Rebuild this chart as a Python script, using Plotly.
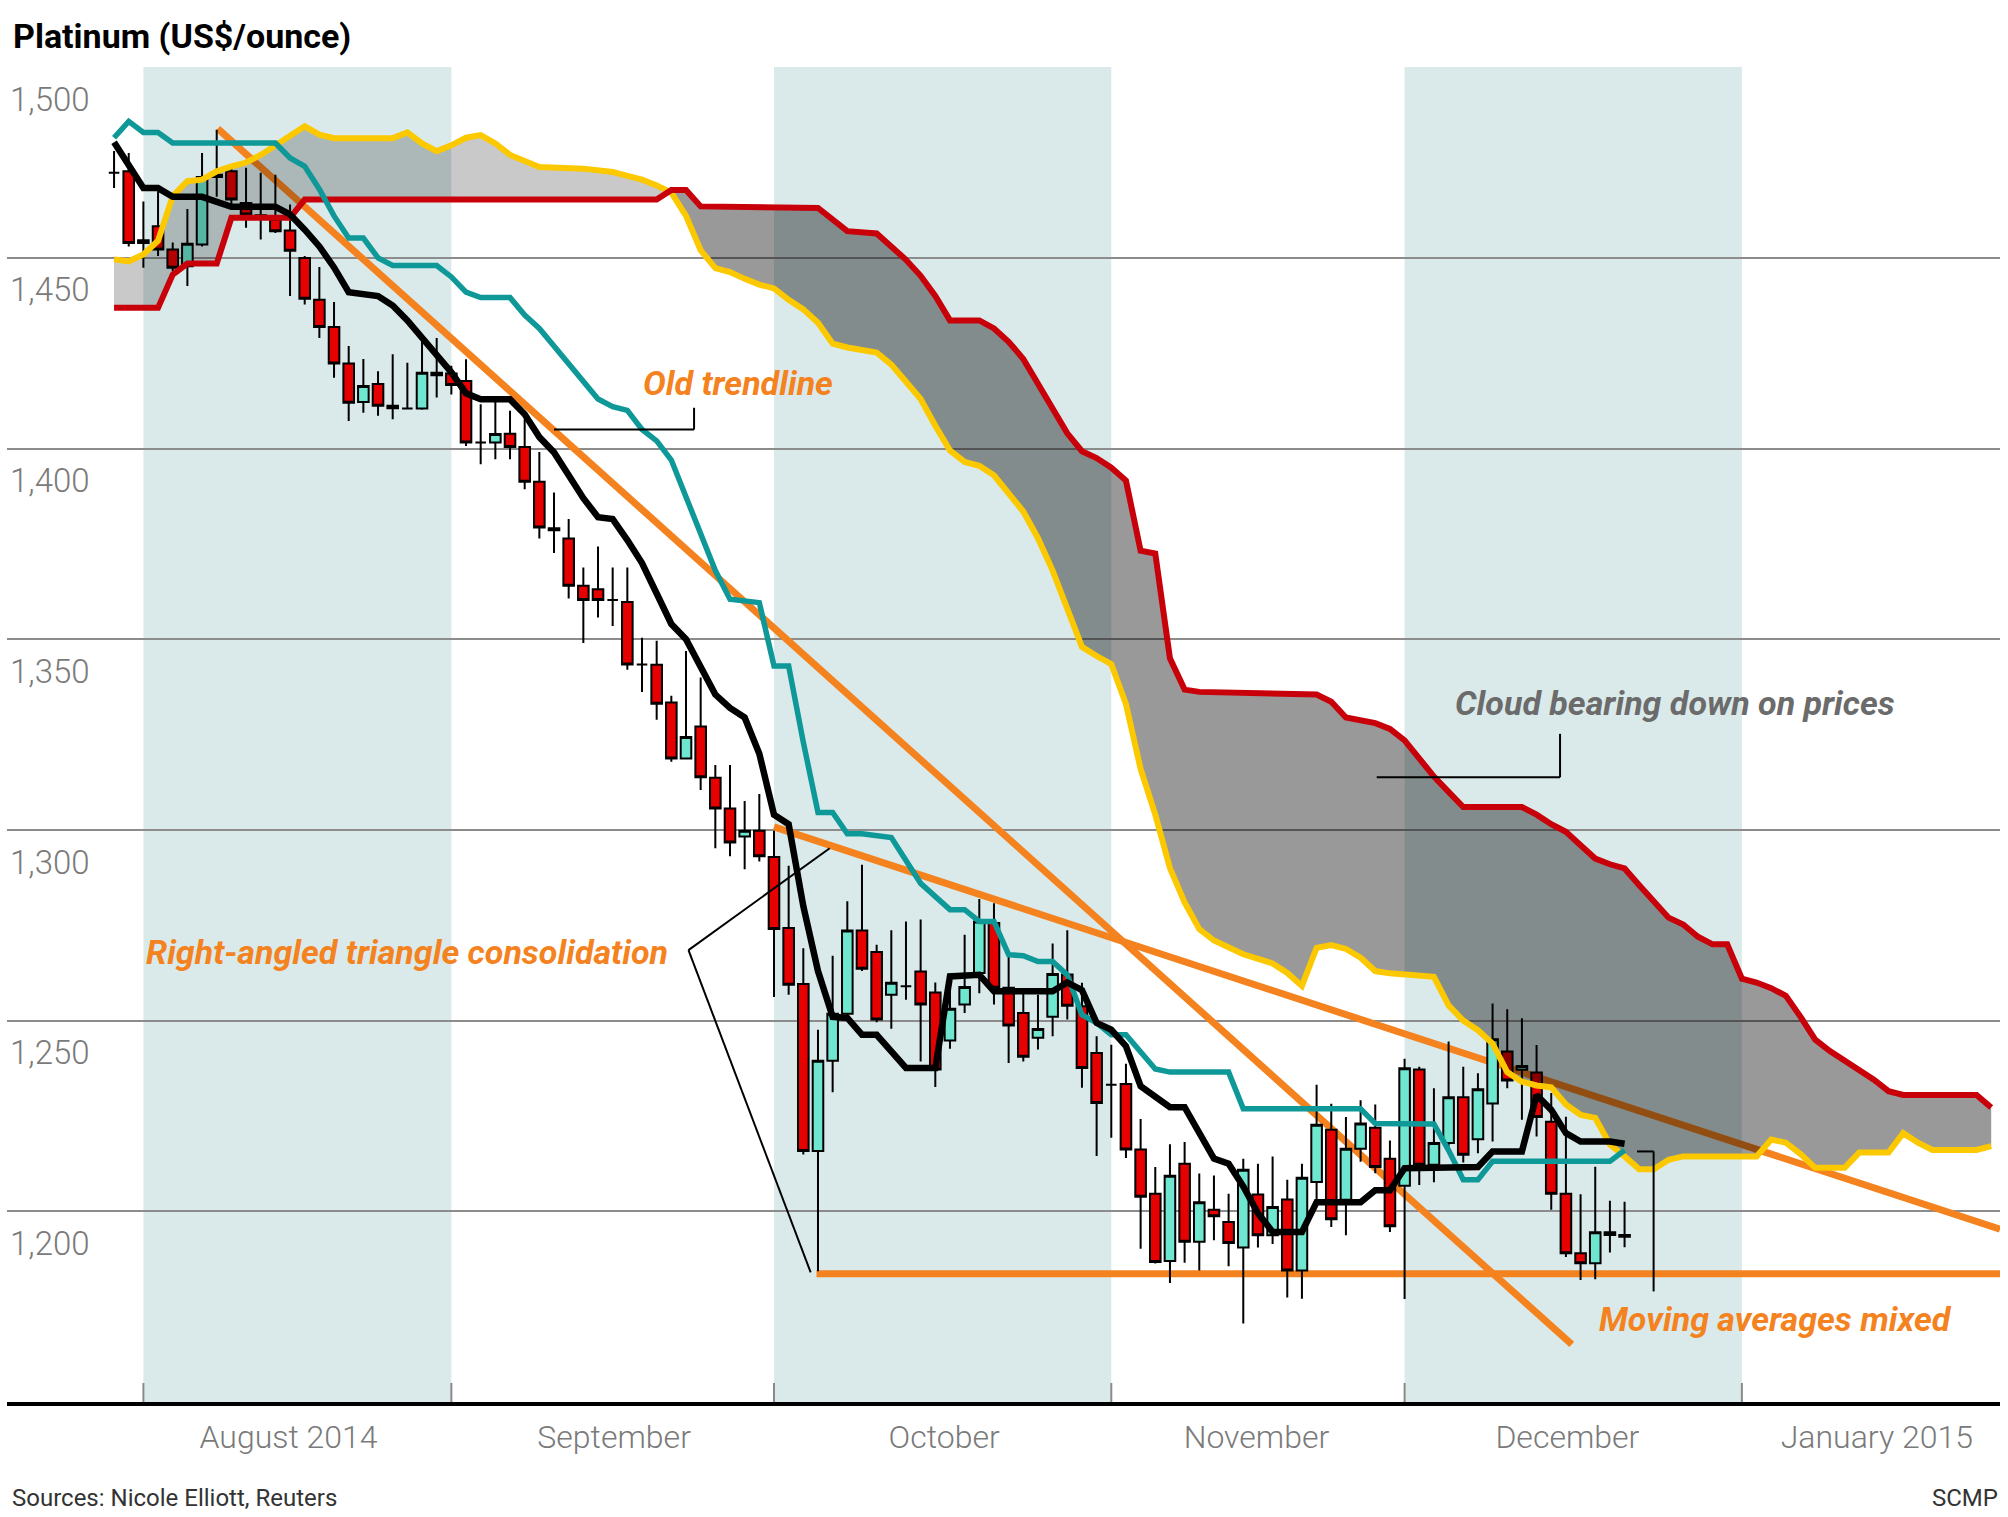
import numpy as np
import pandas as pd
import plotly.graph_objects as go

# ---------------- data ----------------
# trading-day index: 0 = 1 Aug 2014, weekdays only
CANDLE_FIRST_DAY = -2
OPEN = [1472.3, 1472.7, 1453.9, 1458.3, 1452.2, 1447.8, 1453.5, 1471.2, 1472.7, 1464.4,
        1461.2, 1460.0, 1457.2, 1450.0, 1439.0, 1431.9, 1422.3, 1412.2, 1416.9, 1411.2,
        1410.5, 1410.5, 1419.9, 1419.7, 1417.7, 1401.6, 1401.6, 1403.9, 1400.4, 1391.3,
        1379.1, 1376.4, 1364.0, 1363.1, 1360.3, 1359.8, 1343.4, 1343.3, 1333.4, 1318.7,
        1327.1, 1313.7, 1305.6, 1298.3, 1299.8, 1292.9, 1274.3, 1259.6, 1215.8, 1239.5,
        1251.8, 1273.6, 1268.0, 1256.8, 1259.0, 1262.9, 1257.4, 1244.8, 1254.2, 1262.5,
        1275.6, 1258.6, 1252.0, 1245.5, 1251.0, 1262.1, 1253.8, 1241.5, 1233.2, 1233.4,
        1216.2, 1204.6, 1187.0, 1212.5, 1192.0, 1200.4, 1197.2, 1190.5, 1204.4, 1193.7,
        1203.1, 1184.5, 1207.7, 1221.4, 1203.0, 1216.4, 1221.9, 1213.8, 1206.7, 1237.2,
        1212.2, 1217.9, 1229.9, 1218.9, 1228.3, 1241.9, 1237.1, 1236.4, 1223.5, 1204.6,
        1189.0, 1186.4, 1194.5, 1193.3]
HIGH = [1478.0, 1477.5, 1464.8, 1467.5, 1454.0, 1462.8, 1477.5, 1483.6, 1473.5, 1473.6,
        1472.3, 1471.8, 1464.0, 1450.5, 1447.6, 1438.4, 1426.9, 1423.5, 1420.3, 1424.7,
        1422.5, 1429.0, 1429.0, 1421.7, 1423.4, 1411.6, 1413.8, 1409.9, 1407.7, 1399.1,
        1388.5, 1381.5, 1368.8, 1374.3, 1368.8, 1368.8, 1350.4, 1349.6, 1335.2, 1346.9,
        1340.0, 1317.0, 1317.0, 1307.6, 1309.4, 1299.8, 1290.6, 1269.0, 1247.6, 1267.0,
        1281.3, 1290.9, 1269.9, 1273.7, 1276.0, 1276.5, 1260.0, 1259.0, 1272.5, 1281.9,
        1280.8, 1266.9, 1257.2, 1256.8, 1270.2, 1273.7, 1259.9, 1245.9, 1243.7, 1238.7,
        1224.2, 1211.6, 1217.6, 1218.2, 1209.9, 1209.4, 1204.6, 1213.8, 1212.5, 1214.4,
        1208.3, 1212.5, 1233.2, 1228.2, 1224.7, 1229.1, 1228.0, 1218.6, 1240.0, 1237.9,
        1232.3, 1244.5, 1237.9, 1236.2, 1254.5, 1253.0, 1250.6, 1243.6, 1231.0, 1224.8,
        1204.5, 1211.7, 1202.8, 1202.5]
LOW = [1468.3, 1453.0, 1447.4, 1450.5, 1446.5, 1442.6, 1453.0, 1466.0, 1463.0, 1457.9,
       1454.8, 1456.5, 1440.0, 1437.8, 1429.0, 1418.6, 1407.2, 1409.4, 1408.6, 1407.7,
       1410.3, 1410.2, 1413.4, 1414.2, 1400.7, 1395.9, 1397.2, 1397.2, 1389.3, 1376.4,
       1372.6, 1360.7, 1349.0, 1355.7, 1353.5, 1342.0, 1336.2, 1328.9, 1317.9, 1318.6,
       1310.5, 1295.2, 1293.1, 1289.7, 1291.7, 1256.2, 1256.8, 1214.9, 1184.3, 1231.2,
       1251.0, 1263.0, 1249.6, 1247.9, 1255.5, 1239.3, 1232.6, 1242.6, 1252.0, 1257.2,
       1254.2, 1238.9, 1239.3, 1242.4, 1245.9, 1250.3, 1232.4, 1214.5, 1219.3, 1214.0,
       1190.2, 1186.3, 1181.2, 1186.5, 1184.5, 1192.4, 1185.6, 1170.6, 1190.5, 1191.4,
       1177.4, 1177.1, 1203.0, 1195.9, 1193.7, 1213.0, 1210.0, 1194.6, 1177.0, 1206.9,
       1207.6, 1217.0, 1212.8, 1215.2, 1218.3, 1232.3, 1224.0, 1219.6, 1200.4, 1188.0,
       1182.0, 1182.2, 1189.2, 1190.6]
CLOSE = [1472.3, 1453.9, 1454.6, 1452.2, 1447.4, 1453.7, 1471.2, 1471.8, 1465.3, 1461.4,
         1461.0, 1457.0, 1451.9, 1439.3, 1431.9, 1422.3, 1412.0, 1416.4, 1411.2, 1410.6,
         1410.5, 1419.9, 1419.2, 1416.7, 1401.6, 1401.6, 1403.8, 1400.4, 1391.3, 1379.3,
         1378.6, 1364.0, 1360.3, 1360.3, 1360.3, 1343.4, 1343.4, 1333.1, 1318.7, 1324.4,
         1313.8, 1305.6, 1296.7, 1299.8, 1293.1, 1274.0, 1259.4, 1215.8, 1239.5, 1251.8,
         1273.6, 1263.6, 1250.3, 1259.9, 1259.0, 1254.2, 1237.2, 1253.1, 1258.8, 1276.0,
         1258.6, 1248.7, 1240.5, 1247.8, 1262.2, 1253.9, 1237.6, 1228.4, 1233.2, 1216.2,
         1203.8, 1186.7, 1209.3, 1192.0, 1202.4, 1198.7, 1191.7, 1210.9, 1193.7, 1201.1,
         1184.5, 1208.8, 1222.7, 1197.9, 1216.4, 1223.0, 1211.6, 1196.1, 1237.5, 1212.2,
         1217.9, 1229.9, 1214.8, 1232.0, 1245.1, 1234.3, 1238.1, 1224.7, 1204.6, 1189.0,
         1186.4, 1194.5, 1193.8, 1193.8]

TENKAN_DAY = [-2, 0, 1, 2, 4, 6, 9, 10, 11, 12, 13, 14, 16, 17, 18, 19, 20, 21, 22, 23,
              25, 26, 27, 28, 29, 30, 31, 32, 33, 34, 35, 36, 37, 38, 39, 40, 41, 42, 43, 44,
              45, 46, 47, 48, 49, 50, 52, 54, 55, 57, 58, 62, 63, 64, 65, 66, 67, 68, 69, 70,
              71, 73, 74, 75, 76, 77, 79, 80, 83, 84, 85, 86, 91, 92, 94, 95, 96, 97, 98, 100, 101]
TENKAN = [1480.3, 1468.3, 1468.3, 1466.0, 1466.0, 1463.4, 1463.4, 1461.4, 1457.4, 1453.0,
          1447.5, 1441.0, 1440.0, 1437.5, 1433.6, 1429.0, 1425.0, 1420.0, 1414.5, 1412.9,
          1412.9, 1409.0, 1403.0, 1399.0, 1393.0, 1387.0, 1382.0, 1381.5, 1376.0, 1370.0,
          1362.0, 1354.0, 1350.0, 1343.0, 1335.5, 1332.0, 1329.5, 1320.0, 1304.0, 1301.5,
          1280.0, 1263.0, 1251.0, 1250.7, 1246.3, 1246.3, 1237.6, 1237.6, 1261.6, 1262.0,
          1257.7, 1257.7, 1260.0, 1258.0, 1249.4, 1247.6, 1243.3, 1232.8, 1230.3, 1227.3,
          1227.3, 1213.8, 1212.5, 1206.5, 1199.5, 1194.6, 1194.6, 1202.4, 1202.4, 1205.5,
          1205.5, 1211.3, 1211.6, 1215.7, 1215.7, 1230.5, 1226.6, 1220.5, 1218.3, 1218.3, 1217.7]

KIJUN_DAY = [-2, -1, 0, 1, 2, 9, 10, 11, 12, 13, 14, 15, 16, 17, 20, 21, 22, 23, 25, 26,
             27, 28, 29, 30, 31, 32, 33, 34, 35, 36, 37, 38, 39, 40, 42, 43, 44, 45, 46, 47,
             48, 49, 51, 52, 53, 55, 56, 57, 58, 59, 60, 61, 62, 63, 64, 65, 66, 67, 68, 69,
             70, 74, 75, 83, 84, 88, 89, 90, 91, 92, 100, 101]
KIJUN = [1481.5, 1485.8, 1482.9, 1482.9, 1480.1, 1480.1, 1476.2, 1474.0, 1468.0, 1461.0,
         1455.2, 1455.2, 1450.0, 1448.0, 1448.0, 1445.0, 1441.0, 1439.6, 1439.6, 1435.0,
         1431.5, 1427.0, 1422.0, 1418.0, 1413.0, 1411.0, 1410.0, 1405.0, 1402.0, 1397.0,
         1387.0, 1377.0, 1368.0, 1360.5, 1359.6, 1343.0, 1343.0, 1323.0, 1304.6, 1304.6,
         1299.0, 1299.0, 1298.0, 1292.0, 1286.0, 1279.1, 1279.1, 1276.0, 1276.0, 1267.3,
         1267.0, 1265.5, 1265.5, 1262.0, 1251.5, 1249.4, 1246.3, 1246.3, 1242.0, 1237.3,
         1236.5, 1236.5, 1226.9, 1226.9, 1223.0, 1222.9, 1216.0, 1208.3, 1208.3, 1213.1,
         1213.1, 1216.0]

SPAN_A_DAY = [-2, -1, 0, 1, 2, 3, 4, 5, 6, 7, 8, 9, 10, 11, 12, 13, 17, 18, 19, 20,
              21, 22, 23, 24, 25, 26, 27, 30, 32, 33, 34, 35, 36, 37, 38, 39, 40, 41, 42, 43,
              44, 45, 46, 47, 48, 50, 51, 52, 53, 54, 55, 56, 57, 58, 59, 60, 61, 62, 63, 64,
              65, 66, 67, 68, 69, 70, 71, 72, 73, 75, 77, 78, 79, 80, 81, 82, 83, 84, 85, 88,
              89, 90, 91, 92, 93, 94, 95, 96, 97, 98, 99, 100, 101, 102, 103, 104, 105, 110, 111, 112,
              113, 114, 116, 117, 119, 120, 121, 122, 125, 126]
SPAN_A = [1449.6, 1449.1, 1450.9, 1454.5, 1466.2, 1470.1, 1470.5, 1472.7, 1474.0, 1475.0,
          1477.0, 1479.5, 1482.3, 1484.5, 1482.3, 1481.4, 1481.4, 1482.9, 1480.0, 1478.0,
          1479.5, 1481.5, 1482.2, 1480.0, 1477.0, 1475.5, 1473.8, 1473.4, 1472.5, 1471.5,
          1470.5, 1469.0, 1467.1, 1461.0, 1452.0, 1447.3, 1446.3, 1444.5, 1443.0, 1442.0,
          1439.0, 1436.5, 1433.0, 1427.5, 1426.5, 1425.2, 1422.0, 1417.5, 1413.0, 1406.0,
          1399.5, 1396.5, 1395.5, 1393.0, 1388.0, 1383.5, 1376.5, 1368.0, 1358.0, 1348.0,
          1345.6, 1343.5, 1333.0, 1316.0, 1304.0, 1290.0, 1281.0, 1274.0, 1271.0, 1267.4,
          1265.0, 1262.5, 1259.1, 1269.1, 1269.8, 1268.8, 1266.5, 1263.0, 1262.4, 1261.5,
          1254.0, 1250.0, 1247.5, 1244.0, 1236.5, 1234.0, 1233.0, 1232.5, 1228.0, 1225.3,
          1224.5, 1217.5, 1214.4, 1211.0, 1211.0, 1213.5, 1214.4, 1214.4, 1218.8, 1218.0,
          1215.0, 1211.4, 1211.4, 1215.4, 1215.4, 1220.5, 1218.0, 1216.1, 1216.1, 1217.1]

SPAN_B_DAY = [-2, 1, 2, 3, 5, 6, 10, 11, 35, 36, 37, 38, 46, 47, 48, 50, 51, 52, 53, 54,
              55, 57, 58, 59, 60, 61, 62, 63, 64, 65, 66, 67, 68, 69, 70, 71, 72, 80, 81, 82,
              84, 85, 86, 87, 88, 89, 90, 94, 95, 96, 97, 98, 99, 100, 101, 102, 103, 104, 105, 106,
              107, 108, 109, 110, 111, 112, 113, 114, 115, 116, 117, 118, 119, 120, 125, 126]
SPAN_B = [1436.9, 1436.9, 1445.6, 1448.5, 1448.5, 1460.5, 1460.5, 1465.3, 1465.3, 1467.8,
          1467.8, 1463.5, 1463.1, 1460.0, 1457.0, 1456.4, 1453.0, 1449.5, 1445.3, 1440.0,
          1433.6, 1433.6, 1431.5, 1428.0, 1423.5, 1417.0, 1411.0, 1404.0, 1399.3, 1397.5,
          1395.0, 1391.6, 1373.2, 1372.5, 1345.0, 1336.8, 1336.2, 1335.5, 1333.6, 1329.5,
          1328.0, 1326.5, 1323.5, 1318.5, 1314.0, 1310.0, 1306.0, 1306.0, 1304.0, 1301.5,
          1299.5, 1296.0, 1292.5, 1291.0, 1289.9, 1285.5, 1281.0, 1277.0, 1275.2, 1272.0,
          1270.0, 1270.0, 1261.0, 1260.0, 1258.5, 1256.5, 1251.0, 1245.0, 1242.0, 1239.6,
          1237.0, 1234.5, 1231.5, 1230.5, 1230.5, 1227.2]

MONTH_LABELS = ["August 2014", "September", "October", "November", "December", "January 2015"]
MONTH_LABEL_DAY = [9.9, 32.1, 54.6, 75.9, 97.1, 118.2]
MONTH_START_DAY = [0, 21, 43, 66, 86, 109]
SHADED = [(0, 21), (43, 66), (86, 109)]
Y_TICKS = [1200, 1250, 1300, 1350, 1400, 1450, 1500]

# trendlines drawn by the analyst: (day, price) end points
OLD_TREND = [(5.07, 1483.9), (97.4, 1165.1)]
TRIANGLE_TOP = [(43.0, 1300.8), (126.6, 1195.3)]
TRIANGLE_BASE = [(45.9, 1183.6), (126.6, 1183.6)]
CALLOUTS = [
    [(28.0, 1405.0), (37.55, 1405.0), (37.55, 1410.7)],
    [(46.8, 1295.2), (37.17, 1268.5), (45.5, 1184.0)],
    [(84.1, 1313.8), (96.6, 1313.8), (96.6, 1325.2)],
    [(101.85, 1215.7), (102.98, 1215.7), (102.98, 1179.0)],
]

# ---------------- helpers ----------------
BDAYS = pd.bdate_range("2014-07-14", "2015-03-31")
ORIGIN = BDAYS.get_loc(pd.Timestamp("2014-08-01"))


def d(k):
    k = float(k)
    i = int(np.floor(k))
    ts = BDAYS[i + ORIGIN] + pd.Timedelta(days=k - i)
    return ts.strftime("%Y-%m-%d %H:%M:%S")


def ds(ks):
    return [d(k) for k in ks]


ORANGE = "#f4821f"
FONT = "Roboto, Open Sans, sans-serif"

fig = go.Figure()

candle_days = list(range(CANDLE_FIRST_DAY, CANDLE_FIRST_DAY + len(OPEN)))
fig.add_trace(go.Candlestick(
    x=ds(candle_days), open=OPEN, high=HIGH, low=LOW, close=CLOSE,
    increasing=dict(line=dict(color="black", width=2), fillcolor="#6fe6d0"),
    decreasing=dict(line=dict(color="black", width=2), fillcolor="#e60000"),
    whiskerwidth=0, showlegend=False, hoverinfo="skip"))

# cloud fill between the two spans
kg = np.arange(SPAN_A_DAY[0], SPAN_A_DAY[-1] + 1e-9, 0.05)
ya = np.interp(kg, SPAN_A_DAY, SPAN_A)
yb = np.interp(kg, SPAN_B_DAY, SPAN_B)
up = ya >= yb
start = 0
for i in range(1, len(kg) + 1):
    if i == len(kg) or up[i] != up[start]:
        seg = slice(start, min(i + 1, len(kg)))
        xs = ds(kg[seg])
        xp = xs + xs[::-1]
        yp = list(ya[seg]) + list(yb[seg][::-1])
        fig.add_trace(go.Scatter(
            x=xp, y=yp, mode="lines", fill="toself", line=dict(width=0),
            fillcolor="rgba(0,0,0,0.21)" if up[start] else "rgba(0,0,0,0.40)",
            showlegend=False, hoverinfo="skip"))
        start = i

for days, vals, col, w in [
        (SPAN_A_DAY, SPAN_A, "#fcc800", 6),
        (SPAN_B_DAY, SPAN_B, "#c8000a", 6),
        (KIJUN_DAY, KIJUN, "#0e9898", 5.5),
        (TENKAN_DAY, TENKAN, "#000000", 6.5)]:
    fig.add_trace(go.Scatter(x=ds(days), y=vals, mode="lines",
                             line=dict(color=col, width=w),
                             showlegend=False, hoverinfo="skip"))

shapes = []
for a, b in SHADED:
    shapes.append(dict(type="rect", xref="x", yref="paper", x0=d(a), x1=d(b), y0=0, y1=1,
                       fillcolor="#daeaea", line=dict(width=0), layer="below"))
for k in MONTH_START_DAY:
    shapes.append(dict(type="line", xref="x", yref="paper", x0=d(k), x1=d(k), y0=0, y1=19 / 1335,
                       line=dict(color="#8a8a8a", width=2), layer="above"))
for (x0, y0), (x1, y1) in [OLD_TREND, TRIANGLE_TOP, TRIANGLE_BASE]:
    shapes.append(dict(type="line", xref="x", yref="y", x0=d(x0), y0=y0, x1=d(x1), y1=y1,
                       line=dict(color=ORANGE, width=7), layer="between"))
for pts in CALLOUTS:
    for (x0, y0), (x1, y1) in zip(pts[:-1], pts[1:]):
        shapes.append(dict(type="line", xref="x", yref="y", x0=d(x0), y0=y0, x1=d(x1), y1=y1,
                           line=dict(color="black", width=2), layer="above"))

ann_font = dict(family=FONT, size=34, color=ORANGE, weight="bold", style="italic")
annotations = [
    dict(x=d(33.96), y=1417.1, text="Old trendline", xanchor="left", yanchor="middle",
         showarrow=False, font=ann_font),
    dict(x=d(35.9), y=1268.1, text="Right-angled triangle consolidation", xanchor="right",
         yanchor="middle", showarrow=False, font=ann_font),
    dict(x=d(89.3), y=1333.2, text="Cloud bearing down on prices", xanchor="left",
         yanchor="middle", showarrow=False, font=dict(ann_font, color="#6b6b6b")),
    dict(x=d(99.1), y=1171.8, text="Moving averages mixed", xanchor="left", yanchor="middle",
         showarrow=False, font=ann_font),
    dict(xref="paper", yref="paper", x=0.0015, y=-0.072, text="Sources: Nicole Elliott, Reuters",
         xanchor="left", yanchor="middle", showarrow=False,
         font=dict(family=FONT, size=24, color="#333333")),
    dict(xref="paper", yref="paper", x=1.0, y=-0.072, text="SCMP",
         xanchor="right", yanchor="middle", showarrow=False,
         font=dict(family=FONT, size=24, color="#333333")),
]

fig.update_layout(
    width=2008, height=1517,
    margin=dict(l=7, r=8, t=67, b=115),
    paper_bgcolor="white", plot_bgcolor="white",
    showlegend=False,
    boxgap=0.15, boxgroupgap=0.15,
    font=dict(family=FONT),
    title=dict(text="Platinum (US$/ounce)", x=13 / 2008, xanchor="left", xref="container",
               y=1 - 36 / 1517, yanchor="middle", yref="container",
               font=dict(family=FONT, size=34, color="black", weight="bold")),
    shapes=shapes,
    annotations=annotations,
    xaxis=dict(type="date", range=[d(-9.3), d(126.6)],
               rangebreaks=[dict(bounds=["sat", "mon"])],
               rangeslider=dict(visible=False),
               showgrid=False, zeroline=False, showline=True, linecolor="black", linewidth=4,
               ticks="", tickvals=ds(MONTH_LABEL_DAY), ticktext=MONTH_LABELS,
               tickfont=dict(family=FONT, size=32, color="#7a7a7a", weight=300),
               ticklabelstandoff=4),
    yaxis=dict(range=[1150, 1500.05], tickvals=Y_TICKS, tickformat=",d",
               showgrid=True, gridcolor="#8c8c8c", gridwidth=2, zeroline=False, showline=False,
               ticks="", ticklabelposition="inside", ticklabelshift=32,
               tickfont=dict(family=FONT, size=33, color="#7a7a7a", weight=300)),
)

fig.write_html("out.html")
